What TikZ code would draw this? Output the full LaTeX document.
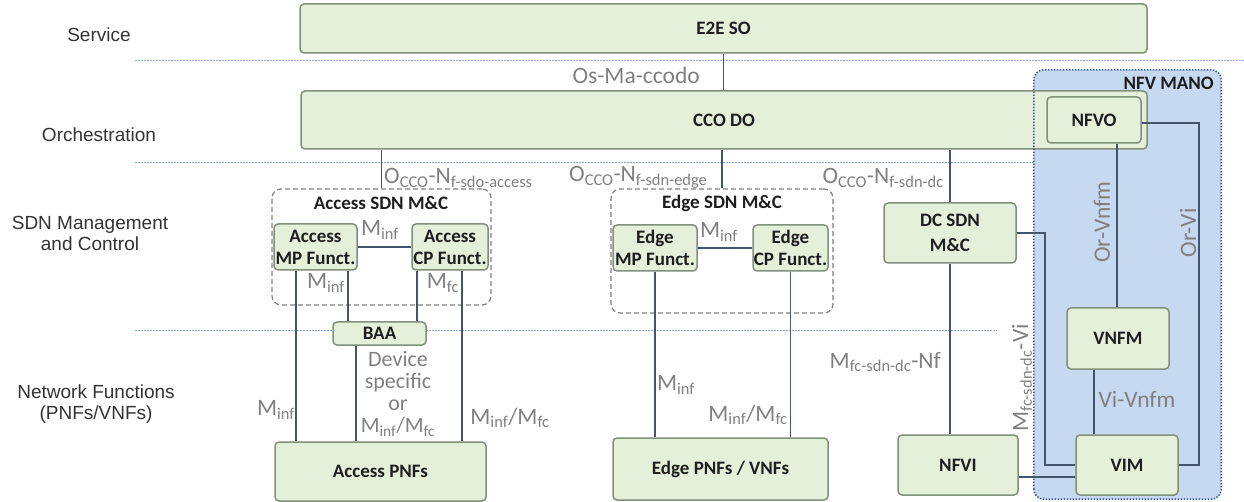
\documentclass[tikz,border=0pt]{standalone}
\usepackage{fontspec}
\setmainfont{Carlito}
\newfontfamily\arialf{Liberation Sans}
\usetikzlibrary{calc}
\definecolor{gfill}{RGB}{228,240,217}
\definecolor{gdraw}{RGB}{128,144,122}
\definecolor{mfill}{RGB}{198,217,240}
\definecolor{mdraw}{RGB}{50,90,160}
\definecolor{guidec}{RGB}{142,170,219}
\definecolor{connc}{RGB}{68,84,106}
\definecolor{lblc}{RGB}{128,128,128}
\definecolor{txtc}{RGB}{30,30,30}
\tikzset{
 gbox/.style={draw=gdraw, fill=gfill, line width=1.5pt, rounded corners=4pt, inner sep=0pt, align=center, font=\fontsize{19}{22}\selectfont\bfseries, text=txtc},
 dbox/.style={draw=gray, dash pattern=on 5pt off 3pt, line width=1.2pt, rounded corners=9pt, inner sep=0pt},
 link/.style={draw=connc, line width=1.8pt},
 guide/.style={draw=guidec, line width=1pt, dash pattern=on 2pt off 1pt},
 lbl/.style={text=lblc, font=\fontsize{23.5}{21}\selectfont, inner sep=0pt, align=center},
 layer/.style={font=\arialf\fontsize{19}{21}\selectfont, text=black!80, align=center, inner sep=0pt},
 ttl/.style={font=\fontsize{19}{22}\selectfont\bfseries, text=txtc, inner sep=0pt},
 manob/.style={draw=mdraw, line width=1.5pt, dash pattern=on 1.5pt off 1.5pt, rounded corners=10pt},
}
\begin{document}
\begin{tikzpicture}[x=1pt,y=-1pt]
\useasboundingbox (0,0) rectangle (1244,502);

% layer guide lines
\coordinate (g1a) at (135,61);  \coordinate (g1b) at (1244,61);
\coordinate (g2a) at (135,163); \coordinate (g2b) at (1034,163);
\coordinate (g3a) at (135,331); \coordinate (g3b) at (997,331);
\draw[guide] (g1a) -- (g1b);
\draw[guide] (g2a) -- (g2b);
\draw[guide] (g3a) -- (g3b);

% layer labels
\node[layer] (lservice) at (99,35) {Service};
\node[layer] (lorch) at (99,135) {Orchestration};
\node[layer] (lsdn) at (90,233) {SDN Management\\and Control};
\node[layer] (lnf) at (96,404) {Network Functions\\(PNFs/VNFs)};

% NFV MANO background
\node[fill=mfill, rounded corners=10pt, minimum width=187pt, minimum height=429pt, inner sep=0pt] (mano) at (1127.5,284.5) {};

% top boxes
\node[gbox, minimum width=847pt, minimum height=49pt] (e2e) at (723.5,28.5) {E2E SO};
\node[gbox, minimum width=846pt, minimum height=58pt] (cco) at (724,120) {CCO DO};

% MANO border over CCO
\draw[manob] (mano.south west) rectangle (mano.north east);
\node[ttl, anchor=east] (manot) at (1214,83) {NFV MANO};

\node[gbox, minimum width=94pt, minimum height=46pt] (nfvo) at (1094,120) {NFVO};

% SDN domains
\node[dbox, minimum width=219pt, minimum height=116pt] (accsdn) at (381.5,247) {};
\node[ttl] (accsdnt) at (381,203) {Access SDN M\&C};
\node[gbox, minimum width=83pt, minimum height=46pt] (accmp) at (315.5,247) {Access\\MP Funct.};
\node[gbox, minimum width=76pt, minimum height=46pt] (acccp) at (450,247) {Access\\CP Funct.};

\node[dbox, minimum width=222pt, minimum height=124pt] (edgesdn) at (722,251) {};
\node[ttl] (edgesdnt) at (722,203) {Edge SDN M\&C};
\node[gbox, minimum width=84pt, minimum height=46pt] (edgemp) at (655,248) {Edge\\MP Funct.};
\node[gbox, minimum width=75pt, minimum height=46pt] (edgecp) at (790.5,248) {Edge\\CP Funct.};

\node[gbox, minimum width=132pt, minimum height=60pt, font=\fontsize{19}{25}\selectfont\bfseries] (dcsdn) at (950,233) {DC SDN\\M\&C};

% lower boxes
\node[gbox, minimum width=93pt, minimum height=23pt] (baa) at (379.5,333.5) {BAA};
\node[gbox, minimum width=211pt, minimum height=59pt] (accpnf) at (380.5,471.5) {Access PNFs};
\node[gbox, minimum width=215pt, minimum height=62pt] (edgepnf) at (720.5,469) {Edge PNFs / VNFs};
\node[gbox, minimum width=120pt, minimum height=60pt] (nfvi) at (958,465) {NFVI};
\node[gbox, minimum width=102pt, minimum height=60pt] (vim) at (1127,465) {VIM};
\node[gbox, minimum width=102pt, minimum height=61pt] (vnfm) at (1118,338.5) {VNFM};

% connectors
\draw[link] (e2e.south) -- (e2e.south |- cco.north);
\draw[link] (accsdn.north) -- (accsdn.north |- cco.south);
\draw[link] (edgesdn.north) -- (edgesdn.north |- cco.south);
\draw[link] (dcsdn.north) -- (dcsdn.north |- cco.south);

\draw[link] (accmp.east) -- (acccp.west);
\coordinate (am1) at ([xshift=-19.5pt]accmp.south);
\coordinate (am2) at ([xshift=32.5pt]accmp.south);
\coordinate (ac1) at ([xshift=-33pt]acccp.south);
\coordinate (ac2) at ([xshift=12pt]acccp.south);
\coordinate (bb) at ([xshift=-23.5pt]baa.south);
\draw[link] (am1) -- (am1 |- accpnf.north);
\draw[link] (am2) -- (am2 |- baa.north);
\draw[link] (ac1) -- (ac1 |- baa.north);
\draw[link] (ac2) -- (ac2 |- accpnf.north);
\draw[link] (bb) -- (bb |- accpnf.north);

\draw[link] (edgemp.east) -- (edgecp.west);
\draw[link] (edgemp.south) -- (edgemp.south |- edgepnf.north);
\draw[link] (edgecp.south) -- (edgecp.south |- edgepnf.north);

\draw[link] (dcsdn.south) -- (dcsdn.south |- nfvi.north);
\draw[link] (dcsdn.east) -| ([xshift=-30pt]vim.west) -- (vim.west);
\draw[link] ([yshift=-12pt]nfvi.east) -- ([yshift=-12pt]vim.west);

\coordinate (nv) at ([xshift=23pt]nfvo.south);
\draw[link] (nv) -- (nv |- vnfm.north);
\draw[link] ([yshift=-3pt]nfvo.east) -| ([xshift=20pt]vim.east) -- (vim.east);
\coordinate (vv) at ([xshift=-24pt]vnfm.south);
\draw[link] (vv) -- (vv |- vim.north);

% interface labels
\node[lbl, anchor=east] (l1) at (700,75) {Os-Ma-ccodo};
\node[lbl, anchor=west] (l2) at (384,178) {O\textsubscript{CCO}-N\textsubscript{f-sdo-access}};
\node[lbl, anchor=west] (l3) at (569,177) {O\textsubscript{CCO}-N\textsubscript{f-sdn-edge}};
\node[lbl, anchor=east] (l4) at (944,178) {O\textsubscript{CCO}-N\textsubscript{f-sdn-dc}};
\node[lbl] (l5) at (380,230) {M\textsubscript{inf}};
\node[lbl] (l6) at (326,283) {M\textsubscript{inf}};
\node[lbl] (l7) at (443,283) {M\textsubscript{fc}};
\node[lbl, font=\fontsize{22}{22}\selectfont] (l8) at (398,394) {Device\\specific\\or\\M\textsubscript{inf}/M\textsubscript{fc}};
\node[lbl] (l9) at (276,410) {M\textsubscript{inf}};
\node[lbl] (l10) at (510,418) {M\textsubscript{inf}/M\textsubscript{fc}};
\node[lbl] (l11) at (719,232) {M\textsubscript{inf}};
\node[lbl] (l12) at (676,385) {M\textsubscript{inf}};
\node[lbl] (l13) at (748,415) {M\textsubscript{inf}/M\textsubscript{fc}};
\node[lbl, anchor=east] (l14) at (941,362) {M\textsubscript{fc-sdn-dc}-Nf};
\node[lbl, rotate=90] (l15) at (1022,378) {M\textsubscript{fc-sdn-dc}-Vi};
\node[lbl, rotate=90] (l16) at (1102,222) {Or-Vnfm};
\node[lbl, rotate=90] (l17) at (1188,233) {Or-Vi};
\node[lbl] (l18) at (1137,399) {Vi-Vnfm};
\end{tikzpicture}
\end{document}
